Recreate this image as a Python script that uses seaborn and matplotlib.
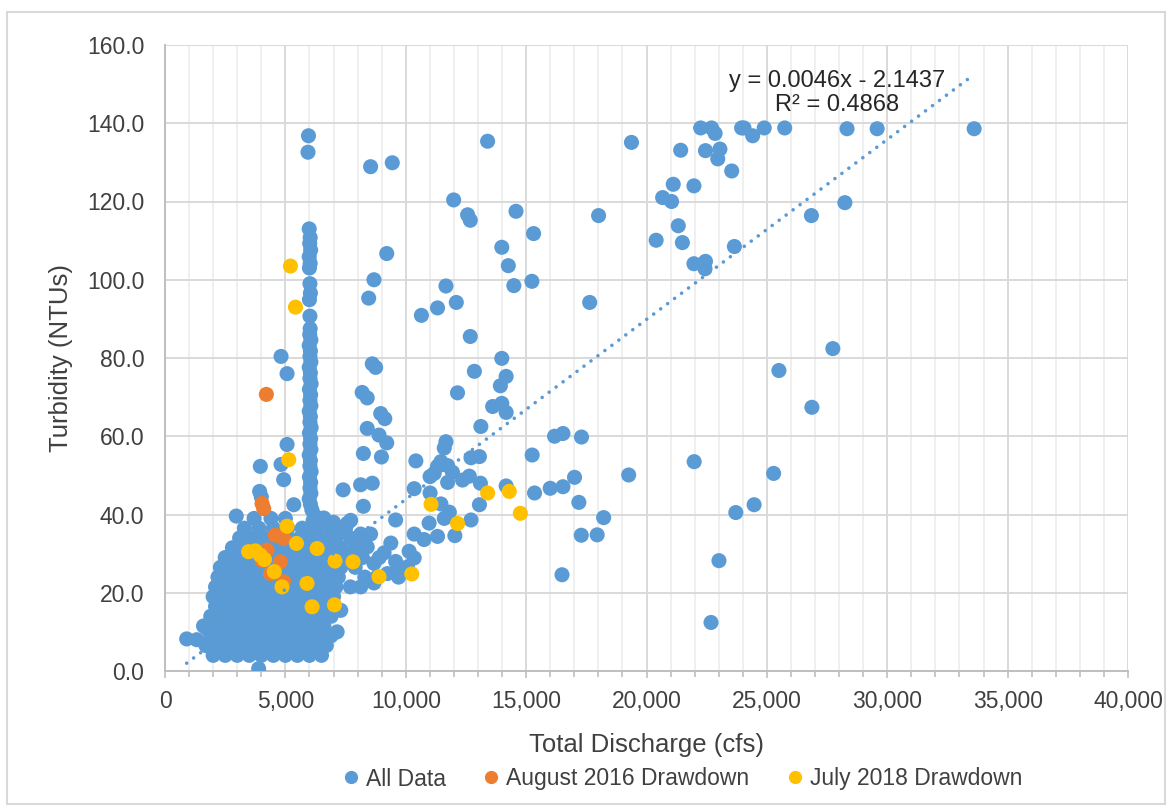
import numpy as np
import pandas as pd
import seaborn as sns
import matplotlib
matplotlib.use("Agg")
import matplotlib.pyplot as plt
from matplotlib.lines import Line2D
from matplotlib.patches import Rectangle
from matplotlib.ticker import MultipleLocator, FuncFormatter

# ========= data: (discharge cfs, turbidity NTU) =========
# All Data - spread-out points
spread_pts = [
    (5960, 136.8), (5940, 132.6), (8540, 128.9), (9440, 129.9), (13400, 135.4), (19375, 135.1),
    (22250, 138.8), (22700, 138.8), (22850, 137.4), (23950, 138.8), (24050, 138.8), (24410, 136.8),
    (24890, 138.8), (25740, 138.8), (28330, 138.6), (29580, 138.6), (33610, 138.6),
    (21420, 133.1), (22450, 133.0), (23050, 133.4), (22960, 130.9), (23540, 127.8),
    (20670, 121.0), (21040, 120.0), (21110, 124.4), (21970, 124.0),
    (20400, 110.1), (21320, 113.8), (21490, 109.5), (21970, 104.1), (22450, 104.7), (22430, 102.8),
    (23650, 108.5), (26850, 116.4), (28240, 119.7), (27740, 82.4), (25500, 76.8), (26870, 67.4),
    (18010, 116.4), (17640, 94.2),
    (11990, 120.4), (12570, 116.6), (12680, 115.2), (14580, 117.5), (15310, 111.8),
    (13990, 108.3), (14260, 103.6), (14490, 98.5), (15240, 99.6), (9210, 106.7), (11670, 98.4),
    (10650, 90.9), (11320, 92.8), (12100, 94.2), (12680, 85.5),
    (13990, 79.9), (12850, 76.6), (14170, 75.3), (13930, 72.9), (12150, 71.1),
    (13610, 67.6), (13990, 68.4), (14170, 66.1), (13120, 62.5),
    (8680, 100.0), (8460, 95.3), (4820, 80.4), (5070, 76.0),
    (8610, 78.5), (8750, 77.6), (8190, 71.2), (8400, 69.8), (8960, 65.8), (9130, 64.5),
    (8400, 62.0), (8890, 60.3), (9210, 58.3), (8240, 55.6), (8990, 54.7),
    (5070, 57.9), (3960, 52.3), (4820, 52.8), (4930, 48.9), (3930, 45.9),
    (7400, 46.3), (8125, 47.6), (8610, 48.0),
    (16180, 60.0), (16530, 60.7), (17300, 59.8), (15250, 55.2),
    (11670, 58.6), (11600, 57.0), (11460, 53.5), (11320, 52.3), (11740, 52.5), (11940, 50.8),
    (12710, 54.5), (13060, 54.8), (10420, 53.7),
    (11010, 49.7), (11180, 50.5), (11740, 48.2), (12360, 48.8), (12640, 49.8), (13100, 48.0),
    (10350, 46.6), (11010, 45.5), (11460, 42.7), (11810, 40.6), (10970, 37.8), (11600, 39.0),
    (9580, 38.6), (10350, 35.0), (10760, 33.6), (11320, 34.4), (12040, 34.6), (12710, 38.6),
    (13060, 42.5), (14170, 47.3),
    (15350, 45.5), (16000, 46.7), (16530, 47.1), (17010, 49.5), (17190, 43.1),
    (18220, 39.2), (17290, 34.7), (17950, 34.8), (19260, 50.1), (21980, 53.5),
    (16490, 24.6), (23010, 28.2), (22680, 12.4), (23710, 40.5), (24470, 42.5), (25280, 50.5),
    (7570, 37.7), (7710, 38.5), (8130, 35.0), (8540, 35.0), (8400, 31.7), (8680, 27.5),
    (9380, 32.7), (9100, 30.2), (10140, 30.6), (10350, 28.9), (9580, 28.0), (9580, 25.1),
    (9240, 24.9), (9700, 24.0), (10070, 26.6), (8130, 21.5), (8680, 22.5),
    (7300, 15.5), (7150, 10.0), (7000, 38.0), (6600, 39.1), (7360, 36.2), (8240, 42.1),
    (5350, 42.5), (2960, 39.6), (4000, 44.5),
    (900, 8.2), (1320, 8.0), (1750, 10.8), (3890, 0.6),
]

# All Data - the tall column of readings near 6,000 cfs
column_pts = [
    (5990, 113.0), (6030, 110.8), (6010, 109.3), (6050, 107.6), (5990, 105.9), (6030, 104.2),
    (6000, 103.0), (6020, 99.0), (6040, 96.6), (6000, 94.9), (6020, 90.7), (6030, 87.5),
    (6010, 86.0), (6060, 84.6), (5990, 83.2), (6040, 81.8), (6020, 80.4), (6060, 79.0),
    (5990, 77.6), (6040, 76.2), (6020, 74.8), (6070, 73.4), (6000, 72.0), (6050, 70.6),
    (6020, 69.2), (6060, 67.8), (5990, 66.4), (6040, 65.0), (6020, 63.6), (6070, 62.2),
    (6000, 60.8), (6050, 59.4), (6020, 58.0), (6060, 56.6), (5990, 55.2), (6040, 53.8),
    (6020, 52.4), (6070, 51.0), (6000, 49.6), (6050, 48.2), (6020, 46.8), (6060, 45.4),
    (5990, 44.0), (6040, 42.6), (6100, 41.2), (6200, 39.8), (6150, 38.4), (6300, 37.0),
    (6250, 35.6), (6100, 34.2),
]

# All Data - dense low-flow cluster
cluster_pts = [
    (2000, 4.0), (2500, 4.0), (3000, 4.0), (3500, 4.0), (4000, 4.0), (4500, 4.0), (5000, 4.0),
    (5500, 4.0), (6000, 4.0), (6500, 4.0),
    (1700, 6.5), (2200, 6.5), (2700, 6.5), (3200, 6.5), (3700, 6.5), (4200, 6.5), (4700, 6.5),
    (5200, 6.5), (5700, 6.5), (6200, 6.5), (6700, 6.5),
    (1900, 9.0), (2400, 9.0), (2900, 9.0), (3400, 9.0), (3900, 9.0), (4400, 9.0), (4900, 9.0),
    (5400, 9.0), (5900, 9.0), (6400, 9.0), (6900, 9.0),
    (1600, 11.5), (2100, 11.5), (2600, 11.5), (3100, 11.5), (3600, 11.5), (4100, 11.5),
    (4600, 11.5), (5100, 11.5), (5600, 11.5), (6100, 11.5), (6600, 11.5),
    (1900, 14.0), (2400, 14.0), (2900, 14.0), (3400, 14.0), (3900, 14.0), (4400, 14.0),
    (4900, 14.0), (5400, 14.0), (5900, 14.0), (6400, 14.0), (6900, 14.0),
    (2100, 16.5), (2600, 16.5), (3100, 16.5), (3600, 16.5), (4100, 16.5), (4600, 16.5),
    (5100, 16.5), (5600, 16.5), (6100, 16.5), (6600, 16.5),
    (2000, 19.0), (2500, 19.0), (3000, 19.0), (3500, 19.0), (4000, 19.0), (4500, 19.0),
    (5000, 19.0), (5500, 19.0), (6000, 19.0), (6500, 19.0), (7000, 19.0),
    (2100, 21.5), (2600, 21.5), (3100, 21.5), (3600, 21.5), (4100, 21.5), (4600, 21.5),
    (5100, 21.5), (5600, 21.5), (6100, 21.5), (6600, 21.5), (7100, 21.5), (7700, 21.5),
    (2200, 24.0), (2700, 24.0), (3200, 24.0), (3700, 24.0), (4200, 24.0), (4700, 24.0),
    (5200, 24.0), (5700, 24.0), (6200, 24.0), (6700, 24.0), (7200, 24.0), (8300, 24.0), (8800, 24.0),
    (2300, 26.5), (2800, 26.5), (3300, 26.5), (3800, 26.5), (4300, 26.5), (4800, 26.5),
    (5300, 26.5), (5800, 26.5), (6300, 26.5), (6800, 26.5), (7300, 26.5), (7900, 26.5),
    (2500, 29.0), (3000, 29.0), (3500, 29.0), (4000, 29.0), (4500, 29.0), (5000, 29.0),
    (5500, 29.0), (6000, 29.0), (6500, 29.0), (7000, 29.0), (7600, 29.0), (8200, 29.0), (8900, 29.0),
    (2800, 31.5), (3300, 31.5), (3800, 31.5), (4300, 31.5), (4800, 31.5), (5300, 31.5),
    (5800, 31.5), (6300, 31.5), (6800, 31.5), (7300, 31.5), (7900, 31.5),
    (3100, 34.0), (3600, 34.0), (4100, 34.0), (4600, 34.0), (5100, 34.0), (5600, 34.0),
    (6100, 34.0), (6600, 34.0), (7100, 34.0), (7700, 34.0), (8300, 34.0),
    (3300, 36.5), (3900, 36.5), (4500, 36.5), (5100, 36.5), (5700, 36.5), (6300, 36.5),
    (6900, 36.5), (7500, 36.5),
    (3700, 39.0), (4400, 39.0), (5000, 39.0), (6500, 39.0),
]

aug2016_pts = [
    (4210, 70.7), (4030, 42.8), (4100, 41.5), (4580, 34.7), (4930, 33.9), (4240, 30.9),
    (4030, 28.3), (4790, 27.9), (4380, 24.9), (4930, 22.8),
]

jul2018_pts = [
    (5210, 103.5), (5420, 93.0), (5140, 54.0), (5070, 37.0), (5460, 32.6), (6320, 31.3),
    (7060, 28.1), (7810, 27.9), (8890, 24.1), (10250, 24.8), (3470, 30.5), (3750, 30.7),
    (3960, 29.6), (4130, 28.5), (4540, 25.4), (4860, 21.5), (5900, 22.4), (6110, 16.4),
    (7040, 16.9), (11050, 42.6), (12150, 37.7), (13400, 45.5), (14300, 45.9), (14760, 40.3),
]

# Excel linear trendline printed on the chart
trend_slope = 0.0046
trend_intercept = -2.1437
trend_r2 = 0.4868

series_names = ["All Data", "August 2016 Drawdown", "July 2018 Drawdown"]
series_colors = ["#5B9BD5", "#ED7D31", "#FFC000"]


def to_frame(pts, name):
    x, y = zip(*pts)
    return pd.DataFrame({"discharge": x, "turbidity": y, "series": name})


all_data = to_frame(spread_pts + column_pts + cluster_pts, series_names[0])
df = pd.concat([all_data,
                to_frame(aug2016_pts, series_names[1]),
                to_frame(jul2018_pts, series_names[2])], ignore_index=True)

# ========= figure =========
sns.set_theme(style="white")
plt.rcParams["font.family"] = ["Liberation Sans", "DejaVu Sans"]
text_col = "#404040"
grid_col = "#D9D9D9"

W, H = 1172, 809
fig = plt.figure(figsize=(W / 100, H / 100), dpi=100)
ax = fig.add_axes([165 / W, 1 - 671 / H, 963 / W, 626 / H])

sns.scatterplot(data=df, x="discharge", y="turbidity", hue="series",
                hue_order=series_names, palette=series_colors,
                s=118, linewidth=0, alpha=1, legend=False, ax=ax, zorder=3)

# trendline (All Data only, over its x range)
tx = np.array([all_data["discharge"].min(), all_data["discharge"].max()])
ax.plot(tx, trend_slope * tx + trend_intercept, color=series_colors[0], lw=2.6,
        linestyle=(0, (0.01, 2.4)), dash_capstyle="round", zorder=4)

ax.text(27900, 147.7,
        f"y = {trend_slope:.4f}x - {abs(trend_intercept):.4f}\nR\u00b2 = {trend_r2:.4f}",
        ha="center", va="center", fontsize=17, color="#262626", linespacing=1.15, zorder=5)

# axes
ax.set_xlim(0, 40000)
ax.set_ylim(0, 160)
ax.xaxis.set_major_locator(MultipleLocator(5000))
ax.xaxis.set_minor_locator(MultipleLocator(1000))
ax.yaxis.set_major_locator(MultipleLocator(20))
ax.xaxis.set_major_formatter(FuncFormatter(lambda v, p: f"{v:,.0f}"))
ax.yaxis.set_major_formatter(FuncFormatter(lambda v, p: f"{v:.1f}"))

ax.set_axisbelow(True)
ax.grid(which="minor", axis="x", color="#EFEFEF", lw=1.4)
ax.grid(which="major", axis="both", color=grid_col, lw=1.4)

for s in ["top", "right"]:
    ax.spines[s].set_visible(False)
for s in ["left", "bottom"]:
    ax.spines[s].set_color("#BFBFBF")
    ax.spines[s].set_linewidth(1.4)

ax.tick_params(axis="x", which="both", bottom=True, color="#BFBFBF", width=1.2)
ax.tick_params(axis="x", which="major", length=5, pad=9, labelsize=16.5, labelcolor=text_col)
ax.tick_params(axis="x", which="minor", length=4)
ax.tick_params(axis="y", left=False, length=0, pad=15, labelsize=16.5, labelcolor=text_col)

ax.set_xlabel("Total Discharge (cfs)", fontsize=18.5, color=text_col)
ax.set_ylabel("Turbidity (NTUs)", fontsize=18.5, color=text_col)
ax.xaxis.set_label_coords(0.5, (671 - 745) / 626)
ax.xaxis.label.set_va("center")
ax.yaxis.set_label_coords((61 - 165) / 963, 0.5)
ax.yaxis.label.set_va("center")

# legend
handles = [Line2D([], [], marker="o", ls="", color=c, markersize=8.5) for c in series_colors]
fig.legend(handles, series_names, loc="center", bbox_to_anchor=(682 / W, 1 - 779 / H),
           ncol=3, frameon=False, fontsize=16.5, handlelength=0.8, handletextpad=0.25,
           columnspacing=1.6, labelcolor=text_col)

# chart-area border
fig.add_artist(Rectangle((7 / W, 5 / H), (1165 - 7) / W, (797 - 5) / H, transform=fig.transFigure,
                         fill=False, edgecolor=grid_col, lw=1.5))

fig.savefig("out.png", dpi=100)
